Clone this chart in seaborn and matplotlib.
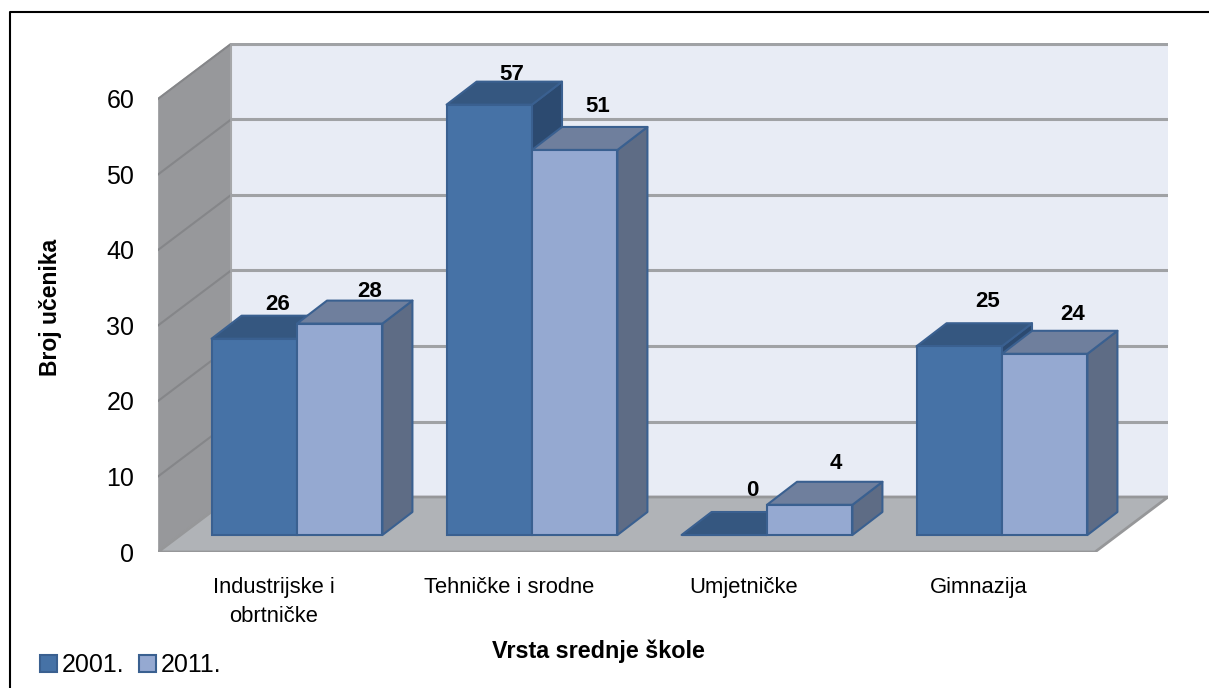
import matplotlib
matplotlib.use("Agg")
import matplotlib.pyplot as plt
from matplotlib.lines import Line2D
from matplotlib.patches import Polygon
import pandas as pd
import seaborn as sns

categories = ["Industrijske i\nobrtničke", "Tehničke i srodne", "Umjetničke", "Gimnazija"]
values_2001 = [26, 57, 0, 25]
values_2011 = [28, 51, 4, 24]
years = ["2001.", "2011."]
y_ticks = [0, 10, 20, 30, 40, 50, 60]

# pixels per unit, the chart is a flat fake of a 3d column chart
PX_X = 235.0
PX_Y = 7.55
FLOOR_FRONT = -17 / PX_Y
WALL_DX, WALL_DY = 73 / PX_X, 55 / PX_Y
BAR_DX, BAR_DY = 30 / PX_X, 23 / PX_Y

FRONT = ["#4672A6", "#95A9D1"]
TOP = ["#355780", "#6F7F9D"]
SIDE = ["#2C4A70", "#5E6C85"]
EDGE = "#3A6090"

# label offsets from the top of each bar (pixels), in the original they were placed by hand
label_off = {
    "2001.": [(23, 34), (22, 30), (28, 45), (28, 45)],
    "2011.": [(30, 32), (23, 43), (26, 41), (28, 39)],
}

df = pd.DataFrame({
    "Vrsta": categories * 2,
    "Broj": values_2001 + values_2011,
    "Godina": [years[0]] * 4 + [years[1]] * 4,
})

plt.rcParams["font.family"] = ["Liberation Sans", "DejaVu Sans"]

W, H = 1209, 688
fig = plt.figure(figsize=(W / 100, H / 100), dpi=100)
ax = fig.add_axes([158 / W, 1 - 552 / H, (1168 - 158) / W, (552 - 43) / H])
ax.patch.set_visible(False)

sns.barplot(df, x="Vrsta", y="Broj", hue="Godina", palette=FRONT, width=0.727, gap=0,
            saturation=1, edgecolor=EDGE, linewidth=1.5, ax=ax, zorder=6)

ax.set_xlim(-139 / PX_X, 871 / PX_X)
ax.set_ylim(FLOOR_FRONT, 492 / PX_Y)
xl, xr = ax.get_xlim()
y_top = FLOOR_FRONT + 60 + WALL_DY

# walls and floor
ax.add_patch(Polygon([(xl + WALL_DX, FLOOR_FRONT + WALL_DY), (xr, FLOOR_FRONT + WALL_DY),
                      (xr, y_top), (xl + WALL_DX, y_top)], fc="#E8ECF5", ec="none", zorder=1))
ax.add_patch(Polygon([(xl, FLOOR_FRONT), (xl + WALL_DX, FLOOR_FRONT + WALL_DY),
                      (xl + WALL_DX, y_top), (xl, FLOOR_FRONT + 60)],
                     fc="#97989B", ec="#A6A7A9", lw=1.5, zorder=1))
ax.add_patch(Polygon([(xl, FLOOR_FRONT), (xl + WALL_DX, FLOOR_FRONT + WALL_DY),
                      (xr, FLOOR_FRONT + WALL_DY), (xr - WALL_DX, FLOOR_FRONT)],
                     fc="#B0B3B7", ec="#969799", lw=2, zorder=2))
for t in y_ticks:
    y = FLOOR_FRONT + t
    if t > 0:
        ax.plot([xl, xl + WALL_DX], [y, y + WALL_DY], color="#858689", lw=1.5, zorder=1.5)
    ax.plot([xl + WALL_DX, xr], [y + WALL_DY, y + WALL_DY], color="#A0A2A5", lw=2.2, zorder=1.5)

# depth faces and labels, taken from the bars seaborn drew
for k, (year, container) in enumerate(zip(years, ax.containers)):
    for i, bar in enumerate(container):
        x0, x1 = bar.get_x(), bar.get_x() + bar.get_width()
        h = bar.get_height()
        ax.add_patch(Polygon([(x1, 0), (x1 + BAR_DX, BAR_DY), (x1 + BAR_DX, h + BAR_DY), (x1, h)],
                             fc=SIDE[k], ec=EDGE, lw=1.5, zorder=3 + k, joinstyle="round"))
        ax.add_patch(Polygon([(x0, h), (x0 + BAR_DX, h + BAR_DY), (x1 + BAR_DX, h + BAR_DY), (x1, h)],
                             fc=TOP[k], ec=EDGE, lw=1.5, zorder=3 + k, joinstyle="round"))
        dx, dy = label_off[year][i]
        ax.annotate(str(int(h)), ((x0 + x1) / 2, h), xytext=(dx, dy), textcoords="offset pixels",
                    ha="center", va="center", fontsize=16, fontweight="bold", color="black", zorder=8)

for s in ax.spines.values():
    s.set_visible(False)

ax.set_yticks([FLOOR_FRONT + t for t in y_ticks], [str(t) for t in y_ticks])
ax.set_xticks([i - 23 / PX_X for i in range(len(categories))], categories)
ax.tick_params(axis="y", length=0, pad=17, labelsize=18)
ax.tick_params(axis="x", length=0, pad=18, labelsize=15.8)
for lab in ax.get_xticklabels():
    lab.set_linespacing(1.5)

ax.set_xlabel("Vrsta srednje škole", fontsize=16.8, fontweight="bold", va="center")
ax.xaxis.set_label_coords(598 / W, 1 - 651 / H, transform=fig.transFigure)
ax.set_ylabel("Broj učenika", fontsize=16.5, fontweight="bold", va="center")
ax.yaxis.set_label_coords(51 / W, 1 - 307 / H, transform=fig.transFigure)

ax.legend(loc="lower left", bbox_to_anchor=(40 / W, 1 - 677 / H), bbox_transform=fig.transFigure,
          ncol=2, frameon=False, fontsize=18, title=None, handlelength=0.68, handleheight=0.68,
          handletextpad=0.2, columnspacing=0.56, borderpad=0, borderaxespad=0)

# outer frame, only left and top are in the picture
fig.add_artist(Line2D([10 / W, 10 / W, 1], [0, 1 - 11.5 / H, 1 - 11.5 / H], color="black", lw=1.5))

fig.savefig("out.png", dpi=100)
